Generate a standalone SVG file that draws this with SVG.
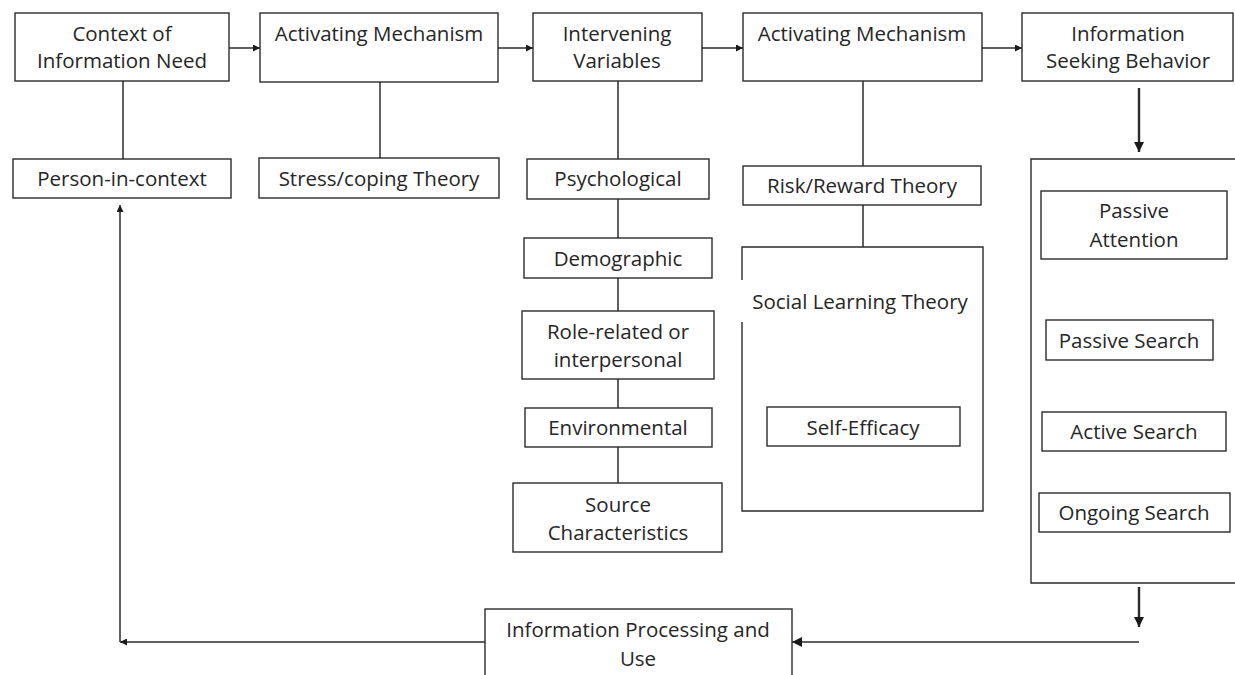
<svg xmlns="http://www.w3.org/2000/svg" width="1235" height="675" viewBox="0 0 1235 675">
<style>
.b{fill:#fff;stroke:#2b2b2b;stroke-width:1.4}
.o{fill:none;stroke:#2b2b2b;stroke-width:1.4}
.c{fill:none;stroke:#2b2b2b;stroke-width:1.5}
.d{fill:none;stroke:#2b2b2b;stroke-width:2.4}
text{font-family:"Open Sans","Liberation Sans",sans-serif;font-size:20.5px;fill:#262626;text-anchor:middle}
</style>
<defs>
<marker id="a" viewBox="0 0 10 10" refX="10" refY="5" markerWidth="7" markerHeight="7" markerUnits="userSpaceOnUse" orient="auto"><path d="M0,0L10,5L0,10z" fill="#1a1a1a"/></marker>
<marker id="A" viewBox="0 0 10 10" refX="10" refY="5" markerWidth="10" markerHeight="10" markerUnits="userSpaceOnUse" orient="auto"><path d="M0,0L10,5L0,10z" fill="#1a1a1a"/></marker>
</defs>
<g id="connectors">
<line class="c" x1="229" y1="48" x2="260" y2="48" marker-end="url(#a)"/>
<line class="c" x1="498" y1="48" x2="533" y2="48" marker-end="url(#a)"/>
<line class="c" x1="702" y1="48" x2="743" y2="48" marker-end="url(#a)"/>
<line class="c" x1="982" y1="48" x2="1022" y2="48" marker-end="url(#a)"/>
<line class="c" x1="123" y1="81" x2="123" y2="159"/>
<line class="c" x1="380" y1="82" x2="380" y2="158"/>
<line class="c" x1="618" y1="81" x2="618" y2="483"/>
<line class="c" x1="863" y1="81" x2="863" y2="247"/>
<line class="d" x1="1139" y1="88" x2="1139" y2="152" marker-end="url(#A)"/>
<line class="d" x1="1139" y1="587" x2="1139" y2="627" marker-end="url(#A)"/>
<line class="c" x1="1139" y1="642" x2="792" y2="642" stroke-width="2" marker-end="url(#A)"/>
<line class="c" x1="485" y1="642" x2="120" y2="642" marker-end="url(#a)"/>
<line class="c" x1="120" y1="642" x2="120" y2="205" marker-end="url(#a)"/>
</g>
<g id="n-context"><rect class="b" x="15" y="13" width="214" height="68"/><text x="122" y="41">Context of</text><text x="122" y="68">Information Need</text></g>
<g id="n-activating1"><rect class="b" x="260" y="13" width="238" height="69"/><text x="379" y="41">Activating Mechanism</text></g>
<g id="n-intervening"><rect class="b" x="533" y="13" width="169" height="68"/><text x="617" y="41">Intervening</text><text x="617" y="68">Variables</text></g>
<g id="n-activating2"><rect class="b" x="743" y="13" width="239" height="68"/><text x="862" y="41">Activating Mechanism</text></g>
<g id="n-seeking"><rect class="b" x="1022" y="13" width="211" height="68"/><text x="1128" y="41">Information</text><text x="1128" y="68">Seeking Behavior</text></g>
<g id="n-person"><rect class="b" x="13" y="159" width="218" height="39"/><text x="122" y="186">Person-in-context</text></g>
<g id="n-stress"><rect class="b" x="259" y="158" width="240" height="40"/><text x="379" y="186">Stress/coping Theory</text></g>
<g id="n-psych"><rect class="b" x="527" y="159" width="182" height="40"/><text x="618" y="186">Psychological</text></g>
<g id="n-demo"><rect class="b" x="524" y="238" width="188" height="40"/><text x="618" y="266">Demographic</text></g>
<g id="n-role"><rect class="b" x="522" y="311" width="192" height="68"/><text x="618" y="339">Role-related or</text><text x="618" y="367">interpersonal</text></g>
<g id="n-env"><rect class="b" x="525" y="408" width="187" height="39"/><text x="618" y="435">Environmental</text></g>
<g id="n-source"><rect class="b" x="513" y="483" width="209" height="69"/><text x="618" y="512">Source</text><text x="618" y="540">Characteristics</text></g>
<g id="n-risk"><rect class="b" x="743" y="166" width="238" height="39"/><text x="862" y="193">Risk/Reward Theory</text></g>
<g id="n-social"><path class="o" d="M742,280V247H983V511H742V322"/><text x="860" y="309">Social Learning Theory</text></g>
<g id="n-self"><rect class="b" x="767" y="407" width="193" height="39"/><text x="863" y="435">Self-Efficacy</text></g>
<g id="n-behaviors"><path class="o" d="M1240,159H1031V583H1240"/></g>
<g id="n-passatt"><rect class="b" x="1041" y="191" width="186" height="68"/><text x="1134" y="218">Passive</text><text x="1134" y="247">Attention</text></g>
<g id="n-passsearch"><rect class="b" x="1046" y="320" width="167" height="40"/><text x="1129" y="348">Passive Search</text></g>
<g id="n-active"><rect class="b" x="1042" y="412" width="184" height="39"/><text x="1134" y="439">Active Search</text></g>
<g id="n-ongoing"><rect class="b" x="1039" y="493" width="191" height="39"/><text x="1134" y="520">Ongoing Search</text></g>
<g id="n-processing"><rect class="b" x="485" y="609" width="307" height="80"/><text x="638" y="637">Information Processing and</text><text x="638" y="666">Use</text></g>
</svg>
